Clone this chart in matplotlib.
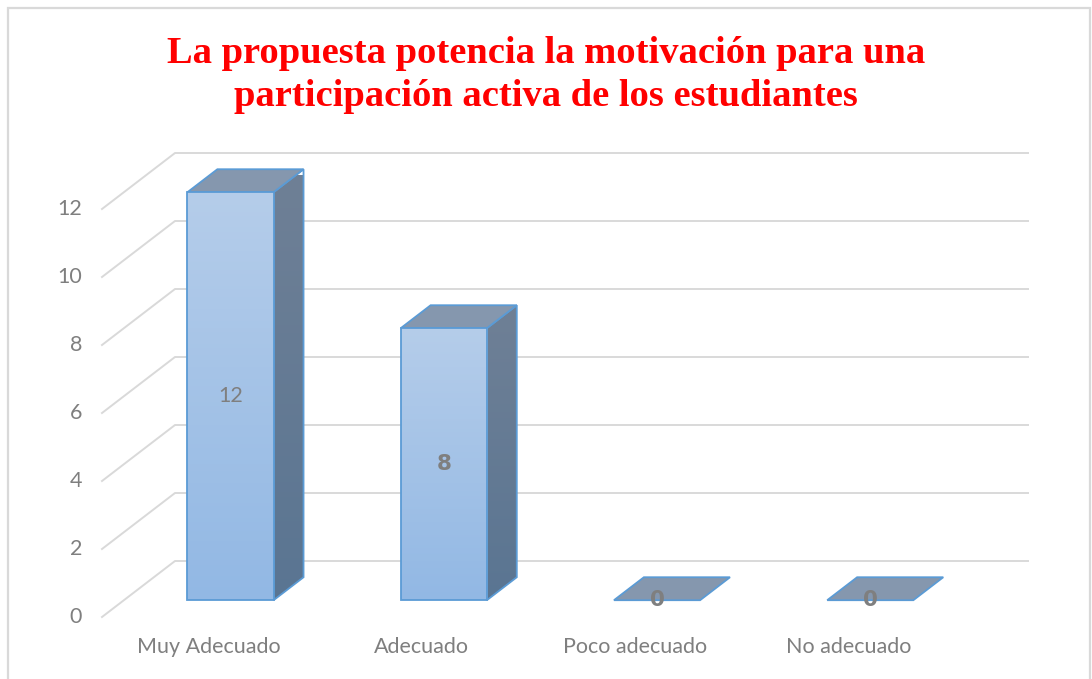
import numpy as np
import matplotlib
matplotlib.use("Agg")
import matplotlib.pyplot as plt
from matplotlib.patches import Polygon, Rectangle
from matplotlib.lines import Line2D
from matplotlib.colors import LinearSegmentedColormap

# ---- data ----
categories = ["Muy Adecuado", "Adecuado", "Poco adecuado", "No adecuado"]
values = [12, 8, 0, 0]
yticks = [0, 2, 4, 6, 8, 10, 12]
title = "La propuesta potencia la motivación para una\nparticipación activa de los estudiantes"

# ---- styles ----
W, H, DPI = 1092, 679, 100
grid_c = "#d9d9d9"
text_c = "#7f7f7f"
edge_c = "#5b9bd5"
side_top, side_bot = "#6f8096", "#5a7592"
top_c = "#8597ae"
front_top, front_bot = "#b5cdea", "#92b8e4"
lab_fs = 15.5

fig = plt.figure(figsize=(W / DPI, H / DPI), dpi=DPI)
fig.patch.set_facecolor("white")

# border of chart area
fig.add_artist(Rectangle((8 / W, -0.05), (1090 - 8) / W, 1.05 - 8 / H,
                         transform=fig.transFigure, fill=False,
                         edgecolor=grid_c, lw=1.6))

# axes = front plane of the 3D floor
px_unit = 34.0
left_px, right_px = 102, 955
bottom_px = H - 617
ymax = 13
ax = fig.add_axes([left_px / W, bottom_px / H, (right_px - left_px) / W,
                   ymax * px_unit / H])
ax.set_xlim(-0.5, len(categories) - 0.5)
ax.set_ylim(0, ymax)
ax.axis("off")

slot_px = (right_px - left_px) / len(categories)
DX = 73 / slot_px      # depth offset in x data units
DY = 56 / px_unit      # depth offset in y data units


def P(x, y, d):
    return (x + DX * d, y + DY * d)


# gridlines (side wall + back wall)
x0, x1 = -0.5, len(categories) - 0.5
for v in yticks:
    ax.add_line(Line2D([P(x0, v, 0)[0], P(x0, v, 1)[0], P(x1, v, 1)[0]],
                       [P(x0, v, 0)[1], P(x0, v, 1)[1], P(x1, v, 1)[1]],
                       color=grid_c, lw=1.4, clip_on=False, zorder=1))
    ax.text(-0.5 - 20 / slot_px, v, str(v), ha="right", va="center",
            fontsize=lab_fs, color=text_c, family="Lato")

# bars
hw = 0.202
d0, d1 = 0.30, 0.71
grad = np.linspace(0, 1, 256).reshape(-1, 1)
cm_front = LinearSegmentedColormap.from_list("f", [front_bot, front_top])
cm_side = LinearSegmentedColormap.from_list("s", [side_bot, side_top])

for i, (cat, v) in enumerate(zip(categories, values)):
    xl, xr = i - hw, i + hw
    if v > 0:
        # side face
        side = [P(xr, 0, d0), P(xr, v, d0), P(xr, v, d1), P(xr, 0, d1)]
        sp = Polygon(side, closed=True, facecolor="none", edgecolor=edge_c,
                     lw=1.3, clip_on=False, zorder=3)
        ax.add_patch(sp)
        xs = [p[0] for p in side]
        ys = [p[1] for p in side]
        im = ax.imshow(grad, cmap=cm_side, origin="lower", aspect="auto",
                       extent=[min(xs), max(xs), min(ys), max(ys)], zorder=2)
        im.set_clip_path(sp)
        # top face
        top = [P(xl, v, d0), P(xr, v, d0), P(xr, v, d1), P(xl, v, d1)]
        ax.add_patch(Polygon(top, closed=True, facecolor=top_c,
                             edgecolor=edge_c, lw=1.3, clip_on=False, zorder=3))
        # front face
        fl = P(xl, 0, d0)
        fr = Rectangle(fl, 2 * hw, v, facecolor="none", edgecolor=edge_c,
                       lw=1.3, clip_on=False, zorder=4)
        ax.add_patch(fr)
        im2 = ax.imshow(grad, cmap=cm_front, origin="lower", aspect="auto",
                        extent=[fl[0], fl[0] + 2 * hw, fl[1], fl[1] + v],
                        zorder=3.5)
        im2.set_clip_path(fr)
    else:
        top = [P(xl, 0, d0), P(xr, 0, d0), P(xr, 0, d1), P(xl, 0, d1)]
        ax.add_patch(Polygon(top, closed=True, facecolor=top_c,
                             edgecolor=edge_c, lw=1.3, clip_on=False, zorder=3))
    # data label
    cx, cy = P(i, v / 2, d0)
    if v == 12:
        ax.text(cx, cy, str(v), ha="center", va="center", fontsize=lab_fs,
                color=text_c, family="Lato", zorder=6)
    else:
        ax.text(cx, cy, str(v), ha="center", va="center", fontsize=15.5,
                color=text_c, family="DejaVu Sans", fontweight="bold", zorder=6)
    # category label
    ax.text(i, -30 / px_unit, cat, ha="center", va="center", fontsize=lab_fs,
            color=text_c, family="Lato")

ax.set_xlim(-0.5, len(categories) - 0.5)
ax.set_ylim(0, ymax)

fig.text(0.5, 1 - 75 / H, title, ha="center", va="center",
         fontsize=27.7, fontweight="bold", color="#ff0000",
         family="Liberation Serif", linespacing=1.32)

fig.savefig("out.png", dpi=DPI, facecolor="white")
